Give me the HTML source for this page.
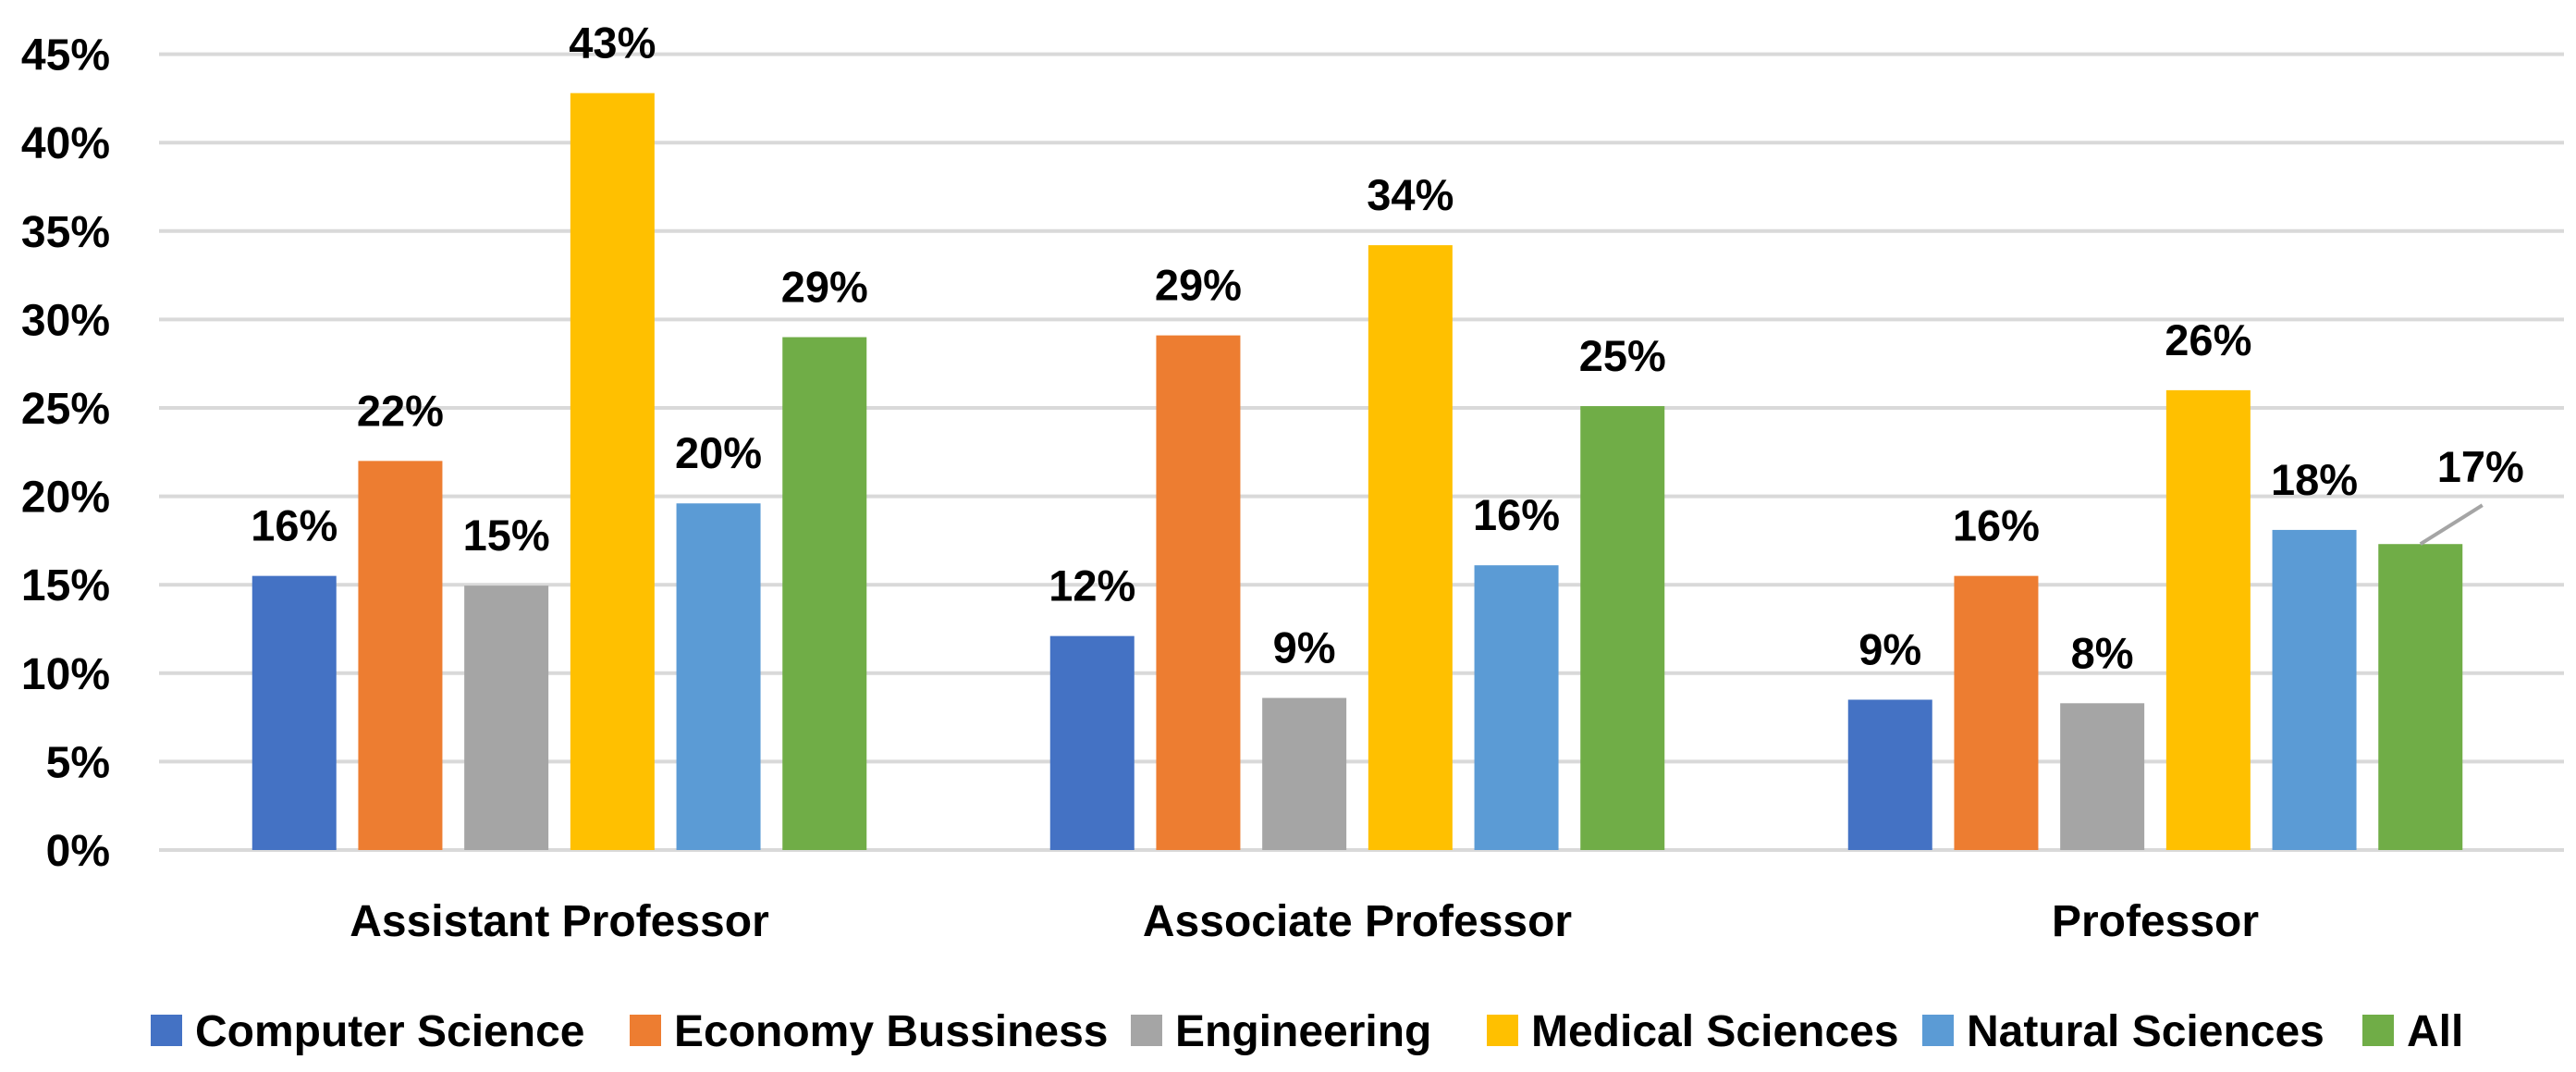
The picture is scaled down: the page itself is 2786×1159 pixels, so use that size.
<!DOCTYPE html>
<html><head><meta charset="utf-8"><style>
html,body{margin:0;padding:0;background:#fff;}
svg{display:block;font-family:"Liberation Sans",sans-serif;font-weight:bold;}
</style></head><body>
<svg id="chart" width="2786" height="1159" viewBox="0 0 2786 1159" xmlns="http://www.w3.org/2000/svg">
<g id="grid"></g>
<g id="yaxis"></g>
<g id="bars"></g>
<g id="xaxis"></g>
<g id="legend"></g>
</svg>
<script>
const categories = ["Assistant Professor","Associate Professor","Professor"];
const seriesNames = ["Computer Science","Economy Bussiness","Engineering","Medical Sciences","Natural Sciences","All"];
const csVals = [15.5,12.1,8.5];
const econVals = [22.0,29.1,15.5];
const engVals = [14.95,8.6,8.3];
const medVals = [42.8,34.2,26.0];
const natVals = [19.6,16.1,18.1];
const allVals = [29.0,25.1,17.3];
const valueLabels = [["16%","12%","9%"],["22%","29%","16%"],["15%","9%","8%"],["43%","34%","26%"],["20%","16%","18%"],["29%","25%","17%"]];
const yTicks = [0,5,10,15,20,25,30,35,40,45];
const yTickLabels = ["0%","5%","10%","15%","20%","25%","30%","35%","40%","45%"];

const series = [csVals,econVals,engVals,medVals,natVals,allVals];
const colors = ["#4472C4","#ED7D31","#A5A5A5","#FFC000","#5B9BD5","#70AD47"];
const NS="http://www.w3.org/2000/svg";
const plotL=172, plotR=2773, y0=919, yPer=95.6/5;
const band=863, firstCenter=605, barW=91, pitch=114.7;
function yScale(v){return y0 - v*yPer;}
function xBand(i){return firstCenter + band*i;}
function mk(tag,attrs,parent){const e=document.createElementNS(NS,tag);for(const k in attrs)e.setAttribute(k,attrs[k]);parent.appendChild(e);return e;}
const grid=document.getElementById('grid'),yaxis=document.getElementById('yaxis'),bars=document.getElementById('bars'),xaxis=document.getElementById('xaxis'),legend=document.getElementById('legend');
yTicks.forEach((t,i)=>{
  const l=mk('line',{x1:plotL,x2:plotR,y1:yScale(t),y2:yScale(t),stroke:'#D9D9D9','stroke-width':4},grid);
  
  
  const tx=mk('text',{x:119,y:yScale(t)+17,'text-anchor':'end','font-size':48,fill:'#000'},yaxis);
  tx.textContent=yTickLabels[i];
  
  
});
const groupW=(series.length-1)*pitch+barW;
categories.forEach((c,ci)=>{
  const start=xBand(ci)-groupW/2;
  series.forEach((s,si)=>{
    const x=start+si*pitch, v=s[ci], yt=yScale(v);
    const r=mk('rect',{x:x,y:yt,width:barW,height:y0-yt,fill:colors[si]},bars);
    
    
    let lx=x+barW/2, ly=yt-38;
    if(ci===categories.length-1 && si===series.length-1){
      lx=x+barW/2+65; ly=yt-67;
      const ln=mk('line',{x1:x+barW/2,y1:yt,x2:lx+2,y2:yt-42,stroke:'#A5A5A5','stroke-width':4},bars);
      
      
    }
    const t=mk('text',{x:lx,y:ly,'text-anchor':'middle','font-size':47,fill:'#000'},bars);
    t.textContent=valueLabels[si][ci];
    
    
  });
  const xl=mk('text',{x:xBand(ci),y:1012,'text-anchor':'middle','font-size':48,fill:'#000'},xaxis);
  xl.textContent=c;
  
  
});
const legX=[163,681,1223,1608,2079,2555];
seriesNames.forEach((n,i)=>{
  const g=mk('g',{},legend);
  
  
  mk('rect',{x:legX[i],y:1097,width:34,height:34,fill:colors[i]},g);
  const t=mk('text',{x:legX[i]+48,y:1131,'font-size':48,fill:'#000'},g);
  t.textContent=n;
});
</script>
</body></html>
